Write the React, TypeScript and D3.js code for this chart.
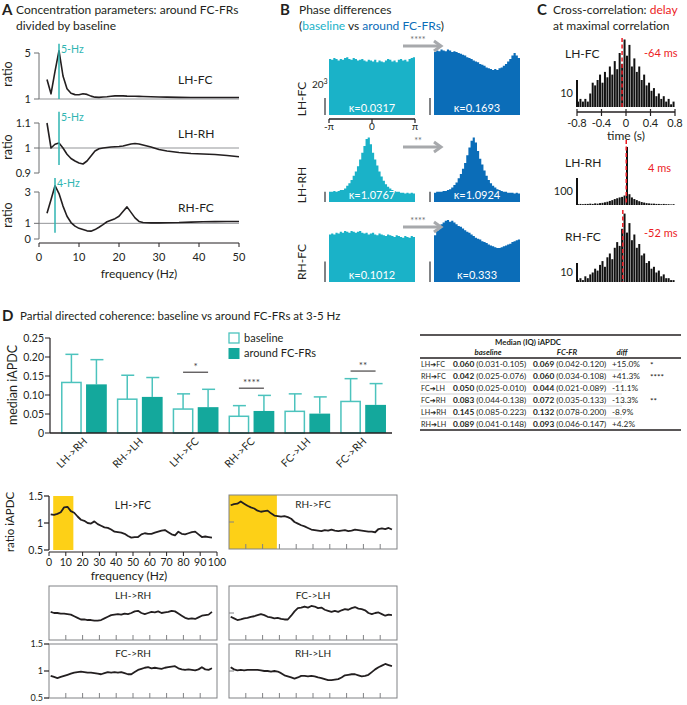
import * as d3 from "d3";

const FONT = "Lato, 'Open Sans', 'DejaVu Sans', sans-serif";
const INK = "#231f20";
const AXIS = "#6d6e71";
const TEAL = "#2fb5b2";
const CYAN = "#1ab2c8";
const BLUE = "#0b6db8";
const RED = "#ec1c24";
const GREEN = "#14a89c";
const GREEN_EDGE = "#4cc3bd";
const ARROW = "#a7a9ac";
const YELLOW = "#fdd017";

// ---- A: concentration ratio (around FC-FRs / baseline)
const freqA = [2, 3, 4, 5, 6, 7, 8, 9, 10, 11, 12, 13, 14, 15, 16, 17, 18, 19, 20, 21, 22, 23, 24, 25, 26, 28, 30, 32, 35, 38, 41, 44, 47, 50];
const concLHFC = [2.7, 1.45, 3.4, 5.2, 3.0, 1.9, 1.5, 1.38, 1.37, 1.45, 1.4, 1.25, 1.16, 1.14, 1.17, 1.2, 1.24, 1.27, 1.28, 1.27, 1.25, 1.24, 1.24, 1.23, 1.22, 1.2, 1.18, 1.16, 1.14, 1.13, 1.13, 1.13, 1.13, 1.13];
const concLHRH = [1.1, 1.0, 1.015, 1.02, 1.0, 0.975, 0.958, 0.948, 0.94, 0.936, 0.948, 0.968, 0.988, 0.997, 1.0, 1.002, 1.004, 1.005, 1.006, 1.008, 1.012, 1.016, 1.018, 1.016, 1.012, 1.004, 0.994, 0.988, 0.982, 0.978, 0.976, 0.974, 0.97, 0.965];
const concRHFC = [1.65, 2.5, 3.4, 2.9, 2.1, 1.45, 1.05, 0.82, 0.68, 0.6, 0.52, 0.5, 0.6, 0.75, 0.92, 1.1, 1.2, 1.3, 1.45, 1.75, 2.05, 1.7, 1.35, 1.12, 1.05, 1.03, 1.03, 1.04, 1.05, 1.08, 1.1, 1.11, 1.12, 1.12];
const peakHz = [5, 5, 4];

// ---- B: phase difference histograms (counts, x10^3), 40 bins from -pi to pi
const pairsB = ["LH-FC", "LH-RH", "RH-FC"];
const phaseBaseLHFC = [66, 65, 67, 66, 64, 66, 65, 67, 68, 66, 65, 67, 66, 64, 65, 66, 64, 63, 65, 64, 63, 65, 62, 64, 63, 62, 64, 66, 65, 63, 64, 62, 65, 66, 64, 65, 63, 66, 67, 68];
const phaseAroundLHFC = [74, 76, 75, 77, 76, 75, 77, 76, 74, 75, 74, 73, 72, 71, 70, 68, 67, 66, 64, 63, 62, 60, 59, 58, 56, 55, 54, 53, 54, 53, 55, 56, 58, 60, 63, 66, 70, 73, 70, 67];
const phaseBaseLHRH = [12, 12, 13, 12, 13, 14, 14, 16, 19, 22, 26, 31, 36, 42, 50, 58, 66, 74, 76, 68, 58, 50, 43, 36, 30, 25, 21, 18, 16, 14, 13, 12, 12, 11, 11, 10, 11, 10, 11, 10];
const phaseAroundLHRH = [11, 12, 12, 12, 13, 13, 14, 15, 17, 20, 23, 28, 33, 39, 46, 55, 64, 72, 76, 70, 60, 51, 44, 37, 31, 26, 22, 19, 17, 15, 14, 13, 12, 12, 11, 11, 11, 10, 11, 10];
const phaseBaseRHFC = [56, 57, 56, 58, 57, 59, 58, 60, 59, 58, 60, 59, 58, 59, 60, 58, 57, 58, 56, 57, 58, 56, 55, 57, 56, 55, 54, 56, 55, 54, 53, 55, 54, 53, 52, 54, 53, 52, 54, 53];
const phaseAroundRHFC = [55, 60, 64, 68, 70, 72, 73, 71, 72, 70, 68, 66, 65, 63, 61, 59, 58, 56, 54, 52, 51, 50, 48, 47, 46, 44, 43, 42, 41, 40, 40, 41, 42, 43, 44, 45, 47, 48, 49, 50];
const kappaBase = ["0.0317", "1.0767", "0.1012"];
const kappaAround = ["0.1693", "1.0924", "0.333"];
const phaseStars = ["****", "**", "****"];
const phaseScaleBar = [20, 12, 24];

// ---- C: cross-correlation histograms, 40 bins from -0.8 to 0.8 s
const ccLHFC = [2, 3, 2, 3, 2, 5, 9, 8, 10, 12, 9, 13, 11, 15, 12, 17, 14, 20, 16, 25, 19, 23, 15, 18, 13, 15, 10, 12, 8, 9, 6, 7, 4, 5, 3, 4, 2, 3, 1, 2];
const ccLHRH = [3, 4, 3, 4, 4, 5, 4, 6, 5, 7, 8, 10, 12, 15, 18, 22, 25, 28, 30, 35, 215, 40, 28, 22, 18, 14, 11, 9, 7, 6, 5, 5, 4, 4, 3, 4, 3, 3, 2, 3];
const ccRHFC = [1, 2, 1, 3, 2, 4, 5, 7, 6, 9, 11, 8, 13, 15, 12, 18, 21, 19, 28, 36, 26, 31, 22, 25, 18, 20, 14, 15, 10, 11, 7, 8, 5, 6, 3, 4, 2, 2, 1, 1];
const ccDelay = [-0.064, 0.004, -0.052];
const ccDelayLabel = ["-64 ms", "4 ms", "-52 ms"];
const ccScaleBar = [10, 100, 10];
const timeTicks = [-0.8, -0.4, 0, 0.4, 0.8];

// ---- D: partial directed coherence at 3-5 Hz
const pairsD = ["LH->RH", "RH->LH", "LH->FC", "RH->FC", "FC->LH", "FC->RH"];
const pdcBase = [0.133, 0.089, 0.063, 0.044, 0.057, 0.083];
const pdcAround = [0.128, 0.095, 0.068, 0.058, 0.051, 0.074];
const pdcBaseErr = [0.207, 0.152, 0.103, 0.072, 0.103, 0.143];
const pdcAroundErr = [0.193, 0.146, 0.115, 0.099, 0.095, 0.13];
const sigPairs = ["LH->FC", "RH->FC", "FC->RH"];
const sigLevels = [0.16, 0.118, 0.163];
const sigLabels = ["*", "****", "**"];
const pdcTicks = [0, 0.05, 0.1, 0.15, 0.2, 0.25];

// table
const tableRows = ["LH\u2794FC", "RH\u2794FC", "FC\u2794LH", "FC\u2794RH", "LH\u2794RH", "RH\u2794LH"];
const tableBase = ["0.060", "0.042", "0.050", "0.083", "0.145", "0.089"];
const tableBaseIQ = ["(0.031-0.105)", "(0.025-0.076)", "(0.025-0.010)", "(0.044-0.138)", "(0.085-0.223)", "(0.041-0.148)"];
const tableFR = ["0.069", "0.060", "0.044", "0.072", "0.132", "0.093"];
const tableFRIQ = ["(0.042-0.120)", "(0.034-0.108)", "(0.021-0.089)", "(0.035-0.133)", "(0.078-0.200)", "(0.046-0.147)"];
const tableDiff = ["+15.0%", "+41.3%", "-11.1%", "-13.3%", "-8.9%", "+4.2%"];
const tableSig = ["*", "****", "", "**", "", ""];

// ratio iAPDC spectra, 1..97 Hz every 2 Hz
const pdcFreq = d3.range(1, 98, 2);
const pdcLHFC = [1.16, 1.15, 1.17, 1.2, 1.29, 1.3, 1.22, 1.19, 1.12, 1.06, 1.04, 1.0, 0.99, 1.03, 0.98, 0.95, 0.92, 0.91, 0.88, 0.84, 0.83, 0.82, 0.8, 0.76, 0.73, 0.74, 0.74, 0.79, 0.81, 0.8, 0.8, 0.82, 0.84, 0.86, 0.87, 0.83, 0.79, 0.77, 0.84, 0.8, 0.79, 0.81, 0.83, 0.84, 0.79, 0.74, 0.75, 0.74, 0.73];
const pdcRHFC = [1.31, 1.33, 1.34, 1.38, 1.34, 1.3, 1.27, 1.25, 1.21, 1.19, 1.2, 1.21, 1.16, 1.12, 1.11, 1.1, 1.11, 1.09, 1.06, 1.0, 0.97, 0.94, 0.92, 0.89, 0.86, 0.85, 0.84, 0.83, 0.85, 0.84, 0.86, 0.84, 0.83, 0.84, 0.85, 0.83, 0.84, 0.86, 0.85, 0.84, 0.83, 0.82, 0.82, 0.81, 0.87, 0.88, 0.87, 0.89, 0.86];
const pdcLHRH = [1.02, 1.0, 1.0, 0.99, 0.99, 0.98, 0.97, 0.94, 0.91, 0.88, 0.88, 0.87, 0.87, 0.86, 0.86, 0.87, 0.9, 0.93, 0.96, 0.97, 0.98, 0.97, 0.99, 0.98, 1.0, 1.03, 1.04, 1.0, 0.98, 1.0, 1.02, 1.01, 1.03, 1.0, 1.01, 1.02, 1.04, 1.03, 0.99, 0.95, 0.91, 0.89, 0.9, 0.89, 0.92, 0.95, 0.96, 0.97, 1.02];
const pdcFCLH = [0.93, 0.9, 0.87, 0.88, 0.9, 0.91, 0.93, 0.94, 0.96, 0.98, 0.96, 0.93, 0.92, 0.9, 0.91, 0.89, 0.88, 0.88, 0.95, 1.03, 1.09, 1.1, 1.12, 1.1, 1.13, 1.12, 1.09, 1.1, 1.06, 1.04, 1.02, 1.04, 1.02, 1.05, 1.07, 1.06, 1.09, 1.11, 1.08, 1.07, 1.05, 1.0, 0.98, 1.0, 1.01, 0.98, 0.95, 0.97, 0.96];
const pdcFCRH = [0.91, 0.89, 0.87, 0.89, 0.91, 0.93, 0.95, 0.97, 0.98, 0.99, 0.98, 0.97, 0.97, 0.96, 0.95, 0.94, 0.96, 0.98, 0.97, 0.98, 0.97, 0.98, 0.96, 0.94, 0.94, 0.98, 1.02, 1.04, 1.06, 1.07, 1.05, 1.06, 1.05, 1.04, 1.06, 1.07, 1.08, 1.09, 1.05, 1.03, 1.02, 1.03, 1.02, 1.01, 1.03, 1.07, 1.03, 1.02, 1.05];
const pdcRHLH = [1.07, 1.03, 1.01, 1.02, 1.01, 1.02, 1.02, 1.02, 1.02, 1.01, 1.0, 1.0, 0.99, 1.0, 0.99, 0.96, 0.92, 0.9, 0.88, 0.86, 0.88, 0.91, 0.91, 0.9, 0.91, 0.9, 0.88, 0.87, 0.85, 0.83, 0.83, 0.84, 0.85, 0.88, 0.92, 0.93, 0.94, 0.94, 0.92, 0.9, 0.91, 0.93, 0.98, 1.03, 1.07, 1.1, 1.13, 1.11, 1.09];
const freqTicks = [0, 10, 20, 30, 40, 50, 60, 70, 80, 90, 100];

function PanelA() {
  const x = d3.scaleLinear().domain([0, 50]).range([39, 239]);
  const rows = [
    { name: "LH-FC", values: concLHFC, domain: [1, 5], range: [99, 53], ticks: [1, 5], mark: [1, 5.8], labelY: 84, ratioY: 74 },
    { name: "LH-RH", values: concLHRH, domain: [0.9, 1.1], range: [173, 123], ticks: [0.9, 1, 1.1], mark: [0.932, 1.145], labelY: 138, ratioY: 147 },
    { name: "RH-FC", values: concRHFC, domain: [0, 3], range: [239, 192], ticks: [0, 1, 3], mark: [0.4, 3.9], labelY: 212, ratioY: 215 },
  ];
  return (
    <g>
      <text x={2} y={15} fontSize={15} fontWeight="bold">A</text>
      <text x={16} y={14} fontSize={12}>Concentration parameters: around FC-FRs</text>
      <text x={16} y={30} fontSize={12}>divided by baseline</text>
      {rows.map((r, i) => {
        const y = d3.scaleLinear().domain(r.domain).range(r.range);
        const line = d3.line<number>().x((_, j) => x(freqA[j])).y((d) => y(d));
        const px = x(peakHz[i]);
        return (
          <g key={r.name}>
            <line x1={x(0)} x2={x(50)} y1={y(1)} y2={y(1)} stroke="#939598" strokeWidth={1} />
            <line x1={x(0)} x2={x(0)} y1={r.range[0]} y2={r.range[1]} stroke={AXIS} strokeWidth={1} />
            {r.ticks.map((t) => (
              <g key={t}>
                <line x1={x(0) - 5} x2={x(0)} y1={y(t)} y2={y(t)} stroke={AXIS} />
                <text x={x(0) - 8} y={y(t)} dy="0.35em" textAnchor="end" fontSize={11}>{String(t)}</text>
              </g>
            ))}
            <text transform={`translate(12,${r.ratioY}) rotate(-90)`} textAnchor="middle" fontSize={12.5}>ratio</text>
            <path d={line(r.values) || ""} fill="none" stroke={INK} strokeWidth={1.6} strokeLinejoin="round" />
            <line x1={px} x2={px} y1={y(r.mark[0])} y2={y(r.mark[1])} stroke={TEAL} strokeWidth={1.5} />
            <text x={px + 2} y={y(r.mark[1]) + 9} fontSize={10.5} fill={TEAL}>{`${peakHz[i]}-Hz`}</text>
            <text x={178} y={r.labelY} fontSize={12}>{r.name}</text>
          </g>
        );
      })}
      <line x1={x(0)} x2={x(50)} y1={243} y2={243} stroke={INK} strokeWidth={1} />
      {[0, 10, 20, 30, 40, 50].map((t) => (
        <g key={t}>
          <line x1={x(t)} x2={x(t)} y1={243} y2={247} stroke={INK} />
          <text x={x(t)} y={261} textAnchor="middle" fontSize={11}>{t}</text>
        </g>
      ))}
      <text x={139} y={278} textAnchor="middle" fontSize={12}>frequency (Hz)</text>
    </g>
  );
}

function StepHist({ values, x, y, fill }: any) {
  const [d0, d1] = x.domain();
  const n = values.length;
  const pts = d3.range(n + 1).map((i) => [d0 + (i * (d1 - d0)) / n, values[Math.min(i, n - 1)]]);
  const area = d3
    .area<number[]>()
    .x((d) => x(d[0]))
    .y0(y(0))
    .y1((d) => y(d[1]))
    .curve(d3.curveStepAfter);
  return <path d={area(pts) || ""} fill={fill} />;
}

function PanelB() {
  const xBase = d3.scaleLinear().domain([-Math.PI, Math.PI]).range([329, 415]);
  const xAround = d3.scaleLinear().domain([-Math.PI, Math.PI]).range([434, 520]);
  const series = [
    [phaseBaseLHFC, phaseAroundLHFC],
    [phaseBaseLHRH, phaseAroundLHRH],
    [phaseBaseRHFC, phaseAroundRHFC],
  ];
  const bottoms = [115, 202, 282];
  const arrowY = [46, 147, 227];
  const labelY = [99, 185, 262];
  return (
    <g>
      <text x={280} y={15} fontSize={15} fontWeight="bold">B</text>
      <text x={299} y={14} fontSize={12}>Phase differences</text>
      <text x={299} y={30} fontSize={12}>
        (<tspan fill={CYAN}>baseline</tspan> vs <tspan fill={BLUE}>around FC-FRs</tspan>)
      </text>
      {pairsB.map((p, i) => {
        const b = bottoms[i];
        const y = d3.scaleLinear().domain([0, 80]).range([b, b - 68]);
        const ay = arrowY[i];
        return (
          <g key={p}>
            <StepHist values={series[i][0]} x={xBase} y={y} fill={CYAN} />
            <StepHist values={series[i][1]} x={xAround} y={y} fill={BLUE} />
            <line x1={325} x2={325} y1={y(0)} y2={y(phaseScaleBar[i])} stroke="#808285" strokeWidth={2} />
            <line x1={430} x2={430} y1={y(0)} y2={y(phaseScaleBar[i])} stroke="#808285" strokeWidth={2} />
            <text x={372} y={b - 3} textAnchor="middle" fontSize={11} fill="#fff">{`\u03ba=${kappaBase[i]}`}</text>
            <text x={477} y={b - 3} textAnchor="middle" fontSize={11} fill="#fff">{`\u03ba=${kappaAround[i]}`}</text>
            <text transform={`translate(306,${labelY[i]}) rotate(-90)`} textAnchor="middle" fontSize={12}>{p}</text>
            <path d={`M403,${ay}H439`} stroke={ARROW} strokeWidth={3} />
            <path d={`M434,${ay - 5}L441,${ay}L434,${ay + 5}`} stroke={ARROW} strokeWidth={3} fill="none" />
            <text x={418} y={ay - 3} textAnchor="middle" fontSize={9} fill="#6d6e71">{phaseStars[i]}</text>
          </g>
        );
      })}
      <text x={312} y={88} fontSize={10}>
        20<tspan dy={-4} fontSize={7}>3</tspan>
      </text>
      <line x1={329} x2={415} y1={119} y2={119} stroke={INK} strokeWidth={1.5} />
      {[-Math.PI, 0, Math.PI].map((t, k) => (
        <g key={k}>
          <line x1={xBase(t)} x2={xBase(t)} y1={119} y2={123} stroke={INK} strokeWidth={1.2} />
          <text x={xBase(t)} y={130} textAnchor="middle" fontSize={10}>{["-\u03c0", "0", "\u03c0"][k]}</text>
        </g>
      ))}
    </g>
  );
}

function PanelC() {
  const x = d3.scaleLinear().domain([-0.8, 0.8]).range([577, 675]);
  const series = [ccLHFC, ccLHRH, ccRHFC];
  const bottoms = [107, 205, 282];
  const barLen = [27, 27, 19];
  const tops = [38, 140, 210];
  const nameY = [58, 167, 241];
  const delayY = [57, 172, 237];
  const bw = (x(0.8) - x(-0.8)) / 40;
  return (
    <g>
      <text x={537} y={15} fontSize={15} fontWeight="bold">C</text>
      <text x={553} y={14} fontSize={12}>
        Cross-correlation: <tspan fill={RED}>delay</tspan>
      </text>
      <text x={553} y={30} fontSize={12}>at maximal correlation</text>
      {series.map((vals, i) => {
        const b = bottoms[i];
        const y = d3.scaleLinear().domain([0, ccScaleBar[i]]).range([b, b - barLen[i]]);
        return (
          <g key={i}>
            {vals.map((v, j) => (
              <rect key={j} x={x(-0.8) + j * bw} y={y(v)} width={bw - 0.45} height={b - y(v)} fill="#111" />
            ))}
            <line x1={577} x2={577} y1={b} y2={y(ccScaleBar[i])} stroke="#111" strokeWidth={2} />
            <text x={573} y={(b + y(ccScaleBar[i])) / 2} dy="0.35em" textAnchor="end" fontSize={11}>{ccScaleBar[i]}</text>
            <line x1={x(ccDelay[i])} x2={x(ccDelay[i])} y1={tops[i]} y2={b} stroke={RED} strokeWidth={1.5} strokeDasharray="4,2.5" />
            <text x={565} y={nameY[i]} fontSize={12}>{pairsB[i]}</text>
            <text x={ccDelay[i] > 0 ? 648 : 644} y={delayY[i]} fontSize={11} fill={RED}>{ccDelayLabel[i]}</text>
          </g>
        );
      })}
      <line x1={x(-0.8)} x2={x(0.8)} y1={112} y2={112} stroke={INK} strokeWidth={1.5} />
      {timeTicks.map((t) => (
        <g key={t}>
          <line x1={x(t)} x2={x(t)} y1={109} y2={116} stroke={INK} strokeWidth={1.2} />
          <text x={x(t)} y={127} textAnchor="middle" fontSize={11}>{String(t)}</text>
        </g>
      ))}
      <text x={x(0)} y={140} textAnchor="middle" fontSize={12}>time (s)</text>
    </g>
  );
}

function PanelDBars() {
  const x = d3.scaleBand<string>().domain(pairsD).range([56, 391]).paddingInner(0.18).paddingOuter(0.09);
  const sub = d3.scaleBand<string>().domain(["baseline", "around"]).range([0, x.bandwidth()]).paddingInner(0.17);
  const y = d3.scaleLinear().domain([0, 0.25]).range([433, 338]);
  const sw = sub.bandwidth();
  return (
    <g>
      <text x={2} y={321} fontSize={15} fontWeight="bold">D</text>
      <text x={20} y={320} fontSize={11.5}>Partial directed coherence: baseline vs around FC-FRs at 3-5 Hz</text>
      <line x1={50} x2={50} y1={y(0)} y2={y(0.25)} stroke={INK} strokeWidth={1.2} />
      {pdcTicks.map((t) => (
        <g key={t}>
          <line x1={45} x2={50} y1={y(t)} y2={y(t)} stroke={INK} />
          <text x={44} y={y(t)} dy="0.35em" textAnchor="end" fontSize={10.5}>{t === 0 ? "0" : d3.format(".2f")(t)}</text>
        </g>
      ))}
      <text transform={`translate(17,385) rotate(-90)`} textAnchor="middle" fontSize={12.5}>median iAPDC</text>
      {pairsD.map((p, i) => {
        const bx = (x(p) || 0) + (sub("baseline") || 0);
        const ax = (x(p) || 0) + (sub("around") || 0);
        return (
          <g key={p}>
            <line x1={bx + sw / 2} x2={bx + sw / 2} y1={y(pdcBase[i])} y2={y(pdcBaseErr[i])} stroke={GREEN_EDGE} strokeWidth={1.5} />
            <line x1={bx + sw / 2 - 6} x2={bx + sw / 2 + 7} y1={y(pdcBaseErr[i])} y2={y(pdcBaseErr[i])} stroke={GREEN_EDGE} strokeWidth={1.5} />
            <line x1={ax + sw / 2} x2={ax + sw / 2} y1={y(pdcAround[i])} y2={y(pdcAroundErr[i])} stroke={GREEN_EDGE} strokeWidth={1.5} />
            <line x1={ax + sw / 2 - 6} x2={ax + sw / 2 + 7} y1={y(pdcAroundErr[i])} y2={y(pdcAroundErr[i])} stroke={GREEN_EDGE} strokeWidth={1.5} />
            <rect x={bx + 0.75} y={y(pdcBase[i])} width={sw - 1.5} height={y(0) - y(pdcBase[i])} fill="#fff" stroke={GREEN_EDGE} strokeWidth={1.5} />
            <rect x={ax} y={y(pdcAround[i])} width={sw} height={y(0) - y(pdcAround[i])} fill={GREEN} />
            <text transform={`translate(${(x(p) || 0) + x.bandwidth() / 2 + 4},${442}) rotate(-45)`} textAnchor="end" fontSize={10.5}>{p}</text>
          </g>
        );
      })}
      {sigPairs.map((p, k) => {
        const x0 = (x(p) || 0) + (sub("baseline") || 0) + sw / 2;
        const x1 = (x(p) || 0) + (sub("around") || 0) + sw / 2;
        return (
          <g key={p}>
            <line x1={x0} x2={x1} y1={y(sigLevels[k])} y2={y(sigLevels[k])} stroke={INK} strokeWidth={1} />
            <text x={(x0 + x1) / 2} y={y(sigLevels[k]) - 2} textAnchor="middle" fontSize={10} fill="#414042">{sigLabels[k]}</text>
          </g>
        );
      })}
      <line x1={50} x2={392} y1={y(0)} y2={y(0)} stroke={INK} strokeWidth={1.5} />
      <rect x={229} y={333} width={10} height={10} fill="#fff" stroke={GREEN_EDGE} strokeWidth={1.3} />
      <text x={244} y={342} fontSize={11}>baseline</text>
      <rect x={228.5} y={348} width={11} height={11} fill={GREEN} />
      <text x={244} y={357} fontSize={11}>around FC-FRs</text>
    </g>
  );
}

function PanelDTable() {
  const x0 = 420;
  const x1 = 681;
  const rowH = 12;
  const top = 358;
  return (
    <g fontSize={8.3} fill="#231f20">
      <line x1={x0} x2={x1} y1={335} y2={335} stroke={INK} strokeWidth={1.5} />
      <text x={528} y={345} textAnchor="middle" fontWeight="bold" fontSize={7.8}>Median (IQ) iAPDC</text>
      <text x={488} y={355} textAnchor="middle" fontWeight="bold" fontStyle="italic" fontSize={7.8}>baseline</text>
      <text x={567} y={355} textAnchor="middle" fontWeight="bold" fontStyle="italic" fontSize={7.8}>FC-FR</text>
      <text x={622} y={355} textAnchor="middle" fontWeight="bold" fontStyle="italic" fontSize={7.8}>diff</text>
      <line x1={x0} x2={x1} y1={top} y2={top} stroke={INK} strokeWidth={1.5} />
      {tableRows.map((r, i) => {
        const yb = top + rowH * i + 9;
        return (
          <g key={r}>
            {i > 0 && <line x1={x0} x2={622} y1={top + rowH * i} y2={top + rowH * i} stroke="#9d9fa2" strokeWidth={0.5} />}
            <text x={421} y={yb} fontSize={7.2}>{r}</text>
            <text x={453} y={yb}>
              <tspan fontWeight="bold">{tableBase[i]}</tspan> {tableBaseIQ[i]}
            </text>
            <text x={533} y={yb}>
              <tspan fontWeight="bold">{tableFR[i]}</tspan> {tableFRIQ[i]}
            </text>
            <text x={612} y={yb}>{tableDiff[i]}</text>
            <text x={650} y={yb + 1}>{tableSig[i]}</text>
          </g>
        );
      })}
      <line x1={x0} x2={x1} y1={top + rowH * 6} y2={top + rowH * 6} stroke={INK} strokeWidth={1.5} />
    </g>
  );
}

function PanelDLines() {
  const W = 168;
  const H = 54;
  const panels = [
    { name: "LH->FC", values: pdcLHFC, left: 49, top: 496, box: false, band: [2.5, 14.5] },
    { name: "RH->FC", values: pdcRHFC, left: 229, top: 495, box: true, band: [0, 28.5], tick1: true },
    { name: "LH->RH", values: pdcLHRH, left: 49, top: 586, box: true },
    { name: "FC->LH", values: pdcFCLH, left: 229, top: 586, box: true, tick1: true },
    { name: "FC->RH", values: pdcFCRH, left: 49, top: 644, box: true, yAxis: true },
    { name: "RH->LH", values: pdcRHLH, left: 229, top: 644, box: true, tick1: true },
  ];
  return (
    <g>
      {panels.map((p: any) => {
        const x = d3.scaleLinear().domain([0, 100]).range([p.left, p.left + W]);
        const y = d3.scaleLinear().domain([0.5, 1.5]).range([p.top + H, p.top]);
        const line = d3.line<number>().x((_, j) => x(pdcFreq[j])).y((d) => y(d));
        return (
          <g key={p.name}>
            {p.band && <rect x={x(p.band[0])} y={p.top} width={x(p.band[1]) - x(p.band[0])} height={H} fill={YELLOW} />}
            {p.box && <rect x={p.left} y={p.top} width={W} height={H} fill="none" stroke="#808285" strokeWidth={1} />}
            {p.box &&
              freqTicks.slice(1, -1).map((t) => (
                <line key={t} x1={x(t)} x2={x(t)} y1={p.top + H} y2={p.top + H - 5} stroke="#808285" />
              ))}
            {p.tick1 && <line x1={p.left} x2={p.left + 5} y1={y(1)} y2={y(1)} stroke="#808285" />}
            {(p.yAxis || !p.box) &&
              [0.5, 1, 1.5].map((t) => (
                <g key={t}>
                  <line x1={p.left - 5} x2={p.left} y1={y(t)} y2={y(t)} stroke={INK} strokeWidth={1.2} />
                  <text x={p.left - 6} y={y(t)} dy="0.35em" textAnchor="end" fontSize={p.box ? 9 : 10.5}>{String(t)}</text>
                </g>
              ))}
            <path d={line(p.values) || ""} fill="none" stroke={INK} strokeWidth={1.8} strokeLinejoin="round" />
            <text x={p.left + W / 2} y={p.top + 13} textAnchor="middle" fontSize={p.box ? 10 : 10.5}>{p.name}</text>
            {!p.box && (
              <g>
                <line x1={p.left} x2={p.left} y1={p.top} y2={p.top + H} stroke={INK} strokeWidth={1.2} />
                <line x1={p.left} x2={p.left + W} y1={p.top + H + 2} y2={p.top + H + 2} stroke={INK} strokeWidth={1.2} />
                {freqTicks.map((t) => (
                  <g key={t}>
                    <line x1={x(t)} x2={x(t)} y1={p.top + H + 2} y2={p.top + H + 6} stroke={INK} />
                    <text x={x(t)} y={p.top + H + 16} textAnchor="middle" fontSize={10.5}>{t}</text>
                  </g>
                ))}
                <text x={p.left + 80} y={p.top + H + 30} textAnchor="middle" fontSize={12}>frequency (Hz)</text>
                <text transform={`translate(14,${p.top + 26}) rotate(-90)`} textAnchor="middle" fontSize={11.5}>ratio iAPDC</text>
              </g>
            )}
          </g>
        );
      })}
    </g>
  );
}

export default function App() {
  return (
    <svg
      width={687}
      height={705}
      fontFamily={FONT}
      fill={INK}
      style={{ position: "absolute", left: 0, top: 0, background: "#fff" }}
    >
      <PanelA />
      <PanelB />
      <PanelC />
      <PanelDBars />
      <PanelDTable />
      <PanelDLines />
    </svg>
  );
}
